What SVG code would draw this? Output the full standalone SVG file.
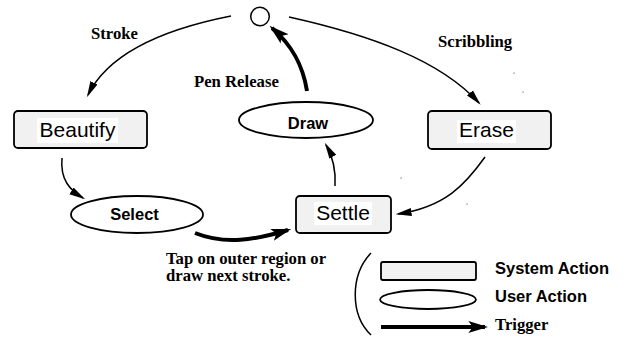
<svg xmlns="http://www.w3.org/2000/svg" width="629" height="342" viewBox="0 0 629 342">
  <style>
    .sys { fill: #f1f1f1; stroke: #000; stroke-width: 1.8; }
    .usr { fill: #fff; stroke: #000; stroke-width: 1.8; }
    .lblbg { fill: #fff; }
    .sans { font-family: "Liberation Sans", Arial, sans-serif; fill: #000; }
    .big { font-size: 21px; }
    .bold { font-size: 16.5px; font-weight: bold; }
    .serif { font-family: "Liberation Serif", "Times New Roman", serif; font-size: 16.7px; font-weight: bold; fill: #000; }
    .thin { fill: none; stroke: #000; stroke-width: 1.5; marker-end: url(#thinHead); }
    .thick { fill: none; stroke: #000; stroke-width: 4; marker-end: url(#thickHead); }
    .speck { fill: #777; }
  </style>
  <defs>
    <marker id="thinHead" markerUnits="userSpaceOnUse" markerWidth="16" markerHeight="10" viewBox="0 0 13 8" refX="11" refY="4" orient="auto">
      <path d="M0,0.8 L13,4 L0,7.2 Z" fill="#000"/>
    </marker>
    <marker id="thickHead" markerUnits="userSpaceOnUse" markerWidth="20" markerHeight="14" viewBox="0 0 18 12" refX="15" refY="6" orient="auto">
      <path d="M0,0.5 L18,6 L0,11.5 L4,6 Z" fill="#000"/>
    </marker>
  </defs>

  <!-- start / end state -->
  <g id="start">
    <circle cx="260" cy="16.5" r="9.3" fill="#fff" stroke="#000" stroke-width="1.5"/>
  </g>

  <g id="beautify">
    <rect class="sys" x="14" y="111" width="133" height="37" rx="4"/>
    <rect class="lblbg" x="37" y="118" width="81" height="25"/>
    <text class="sans big" x="77.5" y="137" text-anchor="middle">Beautify</text>
  </g>

  <g id="erase">
    <rect class="sys" x="428" y="111" width="123" height="38" rx="4"/>
    <rect class="lblbg" x="457" y="120" width="59" height="23"/>
    <text class="sans big" x="486.5" y="137" text-anchor="middle">Erase</text>
  </g>

  <g id="draw">
    <ellipse class="usr" cx="306" cy="120" rx="67" ry="18"/>
    <text class="sans bold" x="308" y="129" text-anchor="middle">Draw</text>
  </g>

  <g id="select">
    <ellipse class="usr" cx="137" cy="214.5" rx="66" ry="18.5"/>
    <text class="sans bold" x="134.5" y="220" text-anchor="middle">Select</text>
  </g>

  <g id="settle">
    <rect class="sys" x="296" y="196" width="95" height="37" rx="4"/>
    <rect class="lblbg" x="314" y="202" width="58" height="23"/>
    <text class="sans big" x="343" y="220" text-anchor="middle">Settle</text>
  </g>

  <!-- transitions -->
  <g id="connectors">
    <path class="thin" d="M231,16 C170,28 110,50 88,95"/>
    <path class="thin" d="M289,17 C370,35 440,60 479,103"/>
    <path class="thick" d="M307,91 C303,66 293,46 272,28"/>
    <path class="thin" d="M335,186 C336,170 333,157 326,145"/>
    <path class="thin" d="M485,157 C465,185 445,207 398,214"/>
    <path class="thin" d="M62,158 C60,180 70,190 83,198"/>
    <path class="thick" d="M195,233 C225,245 255,240 288,230"/>
  </g>

  <!-- transition labels -->
  <g id="labels">
    <text class="serif" x="91" y="39">Stroke</text>
    <text class="serif" x="438" y="47">Scribbling</text>
    <text class="serif" x="194" y="87">Pen Release</text>
    <text class="serif" x="166" y="264">Tap on outer region or<tspan x="166" dy="16.5">draw next stroke.</tspan></text>
  </g>

  <!-- legend -->
  <g id="legend">
    <path d="M371,253 C350,275 350,315 371,335" fill="none" stroke="#000" stroke-width="1.5"/>
    <rect class="sys" x="381" y="262" width="95" height="18" rx="2" stroke-width="1.5"/>
    <text class="sans bold" x="495" y="274">System Action</text>
    <ellipse class="usr" cx="428" cy="299.5" rx="48" ry="9.5" stroke-width="1.5"/>
    <text class="sans bold" x="495" y="302">User Action</text>
    <path class="thick" d="M381,327 L485,327"/>
    <text class="serif" x="495" y="330">Trigger</text>
  </g>

  <!-- specks -->
  <g id="specks">
    <rect class="speck" x="513.5" y="72.5" width="1.2" height="1.2"/>
    <rect class="speck" x="522.5" y="91.5" width="1.2" height="1.2"/>
    <rect class="speck" x="400.5" y="177.5" width="1.2" height="1.2"/>
    <rect class="speck" x="466.5" y="203.5" width="1.2" height="1.2"/>
  </g>
</svg>
